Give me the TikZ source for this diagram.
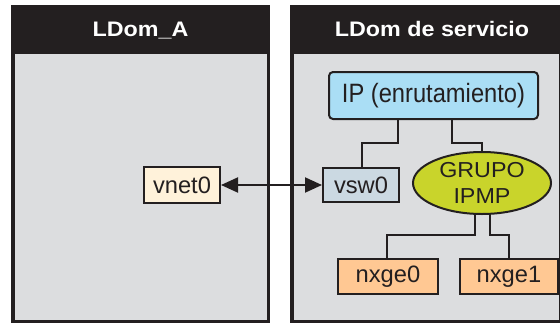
\documentclass[tikz,border=0pt]{standalone}
\usepackage{fontspec}
\setmainfont{Liberation Sans}
\usetikzlibrary{arrows.meta,shapes.geometric}
\definecolor{ink}{HTML}{231F20}
\definecolor{panelgrey}{HTML}{DCDDDF}
\definecolor{ipblue}{HTML}{AADEF5}
\definecolor{swblue}{HTML}{CBD9E2}
\definecolor{netcream}{HTML}{FFF2DA}
\definecolor{nicpeach}{HTML}{FFC893}
\definecolor{grplime}{HTML}{C9D42B}
\tikzset{
  panel/.style={draw=ink, line width=3.5pt, fill=panelgrey},
  headbar/.style={fill=ink},
  headtext/.style={text=white, anchor=base, font=\fontsize{21}{25}\selectfont\bfseries},
  devbox/.style={draw=ink, line width=2pt, text=ink, inner sep=0pt,
    font=\fontsize{23.7}{28}\selectfont},
  link/.style={draw=ink, line width=2pt},
  bothway/.style={draw=ink, line width=2pt,
    {Triangle[length=17pt,width=15pt]}-{Triangle[length=17pt,width=15pt]}}
}
\begin{document}
\begin{tikzpicture}[x=1pt,y=-1pt]
\useasboundingbox (0,0) rectangle (560,322);
\fill[white] (0,0) rectangle (560,322);

% the two domains
\draw[panel] (12.75,6.75) rectangle (268.25,321.5);
\fill[headbar] (11,5) rectangle (270,54);
\node[headtext] (hA) at (140.5,36.7) {\scalebox{1.11}[1]{LDom\_A}};

\draw[panel] (291.75,6.75) rectangle (561,321.5);
\fill[headbar] (290,5) rectangle (562,54);
\node[headtext] (hS) at (432,36.7) {\scalebox{1.11}[1]{LDom de servicio}};

% devices
\node[devbox, fill=ipblue, rounded corners=4pt, minimum width=209pt, minimum height=47pt]
  (ip) at (433.5,95.5) {\scalebox{1}[1.12]{IP (enrutamiento)}};
\node[devbox, fill=swblue, minimum width=76pt, minimum height=34pt]
  (vsw) at (361,185) {vsw0};
\node[devbox, fill=netcream, minimum width=76pt, minimum height=36pt]
  (vnet) at (182,185) {vnet0};
\node[devbox, fill=grplime, ellipse, minimum width=138pt, minimum height=62pt,
  align=center, font=\fontsize{23.3}{26.7}\selectfont]
  (grp) at (482,183) {\scalebox{1}[0.93]{GRUPO}\\\scalebox{1}[0.93]{IPMP}};
\node[devbox, fill=nicpeach, minimum width=100pt, minimum height=35pt]
  (n0) at (388,276.5) {nxge0};
\node[devbox, fill=nicpeach, minimum width=98pt, minimum height=35pt]
  (n1) at (509,276.5) {nxge1};

% wiring inside the service domain
\draw[link] (ip.south -| 398,0) |- (362,143) -- (vsw.north -| 362,0);
\draw[link] (ip.south -| 452,0) |- (482,143) -- (grp.north);
\draw[link] (grp.south -| 475,0) |- (387,235) -- (n0.north -| 387,0);
\draw[link] (grp.south -| 490,0) |- (509,235) -- (n1.north);

% virtual network link between the domains
\draw[bothway] (vnet.east) -- (vsw.west);
\end{tikzpicture}
\end{document}
